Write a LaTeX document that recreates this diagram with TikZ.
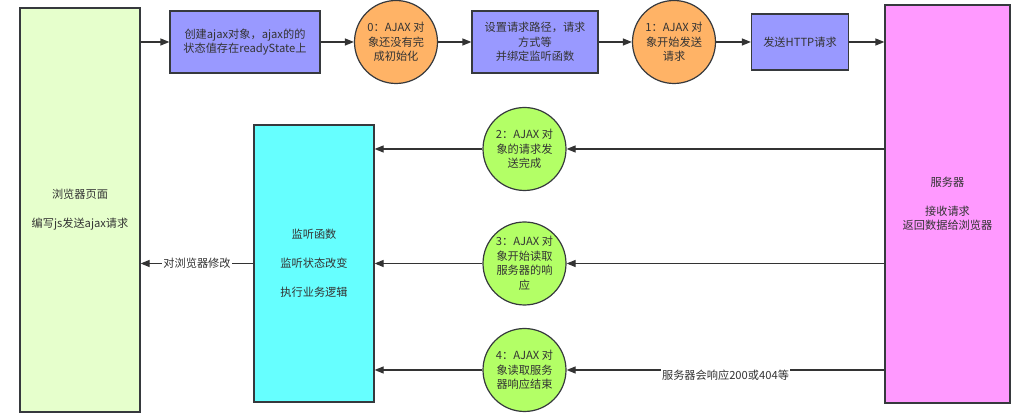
\documentclass[tikz,border=0pt]{standalone}
\usepackage{fontspec}
\setmainfont{Noto Sans CJK SC}
\usepackage{xcolor}
\usepackage{tikz}
\usetikzlibrary{arrows.meta,positioning,calc}
\definecolor{ink}{HTML}{333333}
\definecolor{edge}{HTML}{36393D}
\definecolor{pagegreen}{HTML}{E6FFCC}
\definecolor{violet}{HTML}{9999FF}
\definecolor{peach}{HTML}{FFB366}
\definecolor{lime}{HTML}{B3FF66}
\definecolor{aqua}{HTML}{66FFFF}
\definecolor{pink}{HTML}{FF99FF}
\begin{document}
\begin{tikzpicture}[x=1pt,y=-1pt,every node/.style={font=\fontsize{11.2}{14.5}\selectfont,text=ink},base/.style={draw=edge,line width=1.2pt,align=center,inner sep=0pt},box/.style={base,rectangle},state/.style={base,circle,minimum size=83pt},lbl/.style={fill=white,inner sep=1pt},arr/.style={-{Triangle[length=9pt,width=7pt]},line width=1.2pt,draw=ink}]
\useasboundingbox (0,0) rectangle (1021,419);
% top row
\node[box,fill=pagegreen,minimum width=120pt,minimum height=404pt] (brw) at (80,210) {浏览器页面\\[14.5pt]编写js发送ajax请求};
\node[box,fill=violet,minimum width=150pt,minimum height=62pt] (mk) at (245,42) {创建ajax对象，ajax的的\\状态值存在readyState上};
\node[state,fill=peach] (s0) at (396,42) {0：AJAX 对\\象还没有完\\成初始化};
\node[box,fill=violet,minimum width=126pt,minimum height=62pt] (setup) at (535,42) {设置请求路径，请求\\方式等\\并绑定监听函数};
\node[state,fill=peach] (s1) at (674,42) {1：AJAX 对\\象开始发送\\请求};
\node[box,fill=violet,minimum width=97pt,minimum height=56pt] (send) at (800,42) {发送HTTP请求};
\node[box,fill=pink,minimum width=125pt,minimum height=398pt] (srv) at (947.5,204) {服务器\\[14.5pt]接收请求\\返回数据给浏览器};
% lower part
\node[box,fill=aqua,minimum width=120pt,minimum height=277pt] (lsn) at (314,263.5) {监听函数\\[14.5pt]监听状态改变\\[14.5pt]执行业务逻辑};
\node[state,fill=lime] (s2) at (524.5,149) {2：AJAX 对\\象的请求发\\送完成};
\node[state,fill=lime] (s3) at (524.5,263.5) {3：AJAX 对\\象开始读取\\服务器的响\\应};
\node[state,fill=lime] (s4) at (524.5,370) {4：AJAX 对\\象读取服务\\器响应结束};
\draw[arr] (brw.east |- mk.west) -- (mk.west);\draw[arr] (mk) -- (s0);\draw[arr] (s0) -- (setup);\draw[arr] (setup) -- (s1);\draw[arr] (s1) -- (send);\draw[arr] (send.east) -- (send.east -| srv.west);
\draw[arr] (srv.west |- s2.east) -- (s2.east);\draw[arr] (srv.west |- s3.east) -- (s3.east);\draw[arr] (srv.west |- s4.east) -- (s4.east) node[lbl,midway,yshift=-5pt] {服务器会响应200或404等};
\draw[arr] (s2.west) -- (s2.west -| lsn.east);\draw[arr] (s3.west) -- (s3.west -| lsn.east);\draw[arr] (s4.west) -- (s4.west -| lsn.east);
\draw[arr] (lsn.west) -- (lsn.west -| brw.east) node[lbl,midway] {对浏览器修改};
\end{tikzpicture}
\end{document}
